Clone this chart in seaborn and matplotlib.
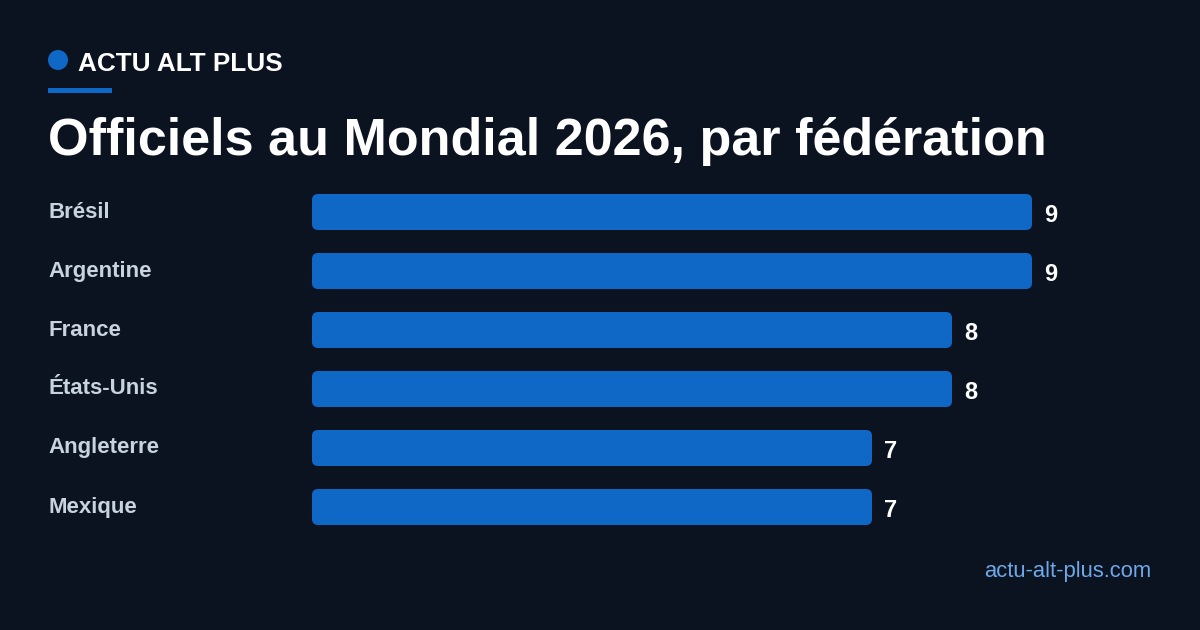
import matplotlib
matplotlib.use("Agg")
import matplotlib.pyplot as plt
import seaborn as sns
import pandas as pd
from matplotlib.patches import FancyBboxPatch, Circle, Rectangle

categories = ["Brésil", "Argentine", "France", "États-Unis", "Angleterre", "Mexique"]
values = [9, 9, 8, 8, 7, 7]

BG = "#0b1320"
BAR = "#0f67c6"
sns.set_theme(style="white")
plt.rcParams['font.family'] = ['Liberation Sans', 'DejaVu Sans']

fig = plt.figure(figsize=(12, 6.3), dpi=100, facecolor=BG)
W, H = 1200, 630
ax = fig.add_axes([312 / W, 1 - 536.5 / H, 888 / W, 354 / H])
ax.set_facecolor(BG)
df = pd.DataFrame({"cat": categories, "val": values})
sns.barplot(data=df, y="cat", x="val", orient="h", color=BAR, width=0.61, ax=ax, saturation=1)
ax.set_xlim(0, 888 / 80)
ax.set_ylim(5.5, -0.5)
for p in list(ax.patches):
    x0, y0, w, h = p.get_x(), p.get_y(), p.get_width(), p.get_height()
    p.remove()
    fb = FancyBboxPatch((x0, y0), w, h, boxstyle="round,pad=0,rounding_size=0.075",
                        mutation_aspect=1.36, facecolor=BAR, edgecolor="none")
    ax.add_patch(fb)
    ax.text(x0 + w + 0.15, y0 + h / 2 + 0.06, f"{int(w)}", color="white", fontsize=17,
            fontweight="bold", va="center", ha="left")
ax.set_yticks([])
ax.set_xticks([])
ax.set_xlabel("")
ax.set_ylabel("")
for s in ax.spines.values():
    s.set_visible(False)

for i, c in enumerate(categories):
    fig.text(48 / W, 1 - (212 + 59 * i) / H, c, color="#c9d3e0", fontsize=16,
             fontweight="bold", va="center", ha="left")

fig.patches.append(Circle((58, H - 60), 10, transform=None, facecolor=BAR, edgecolor="none"))
fig.patches.append(Rectangle((48 / W, 1 - 93 / H), 64 / W, 5 / H, transform=fig.transFigure,
                             facecolor=BAR, edgecolor="none"))
fig.text(78 / W, 1 - 64 / H, "ACTU ALT PLUS", color="white", fontsize=18.8,
         fontweight="bold", va="center", ha="left")
fig.text(48 / W, 1 - 142 / H, "Officiels au Mondial 2026, par fédération", color="white",
         fontsize=37.5, fontweight="bold", va="center", ha="left")
fig.text(1151 / W, 1 - 571 / H, "actu-alt-plus.com", color="#6fa8e8", fontsize=15.8,
         va="center", ha="right")

fig.savefig("out.png", facecolor=BG, dpi=100)
